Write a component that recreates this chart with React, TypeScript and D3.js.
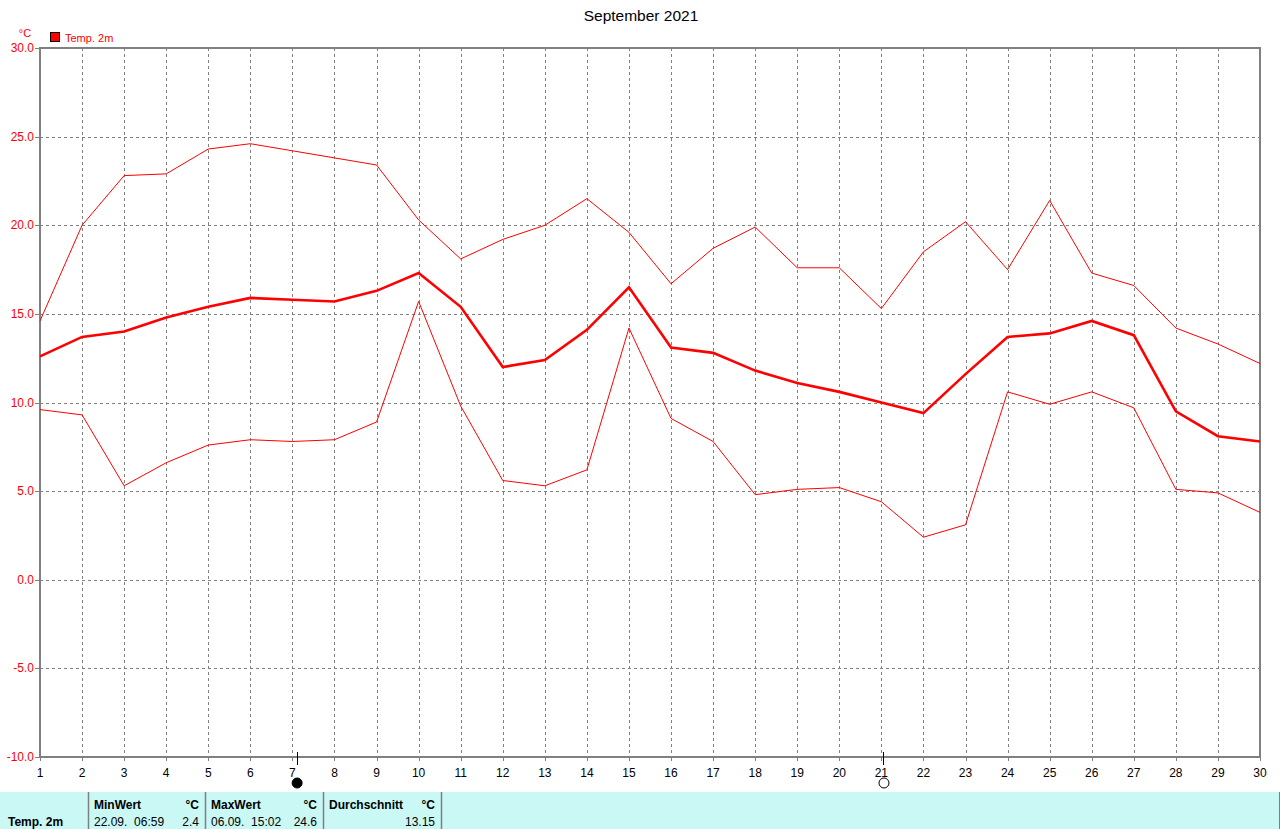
import React from "react";
import * as d3 from "d3";

const days = d3.range(1, 31);
const tempMax = [14.6, 20.0, 22.8, 22.9, 24.3, 24.6, 24.2, 23.8, 23.4, 20.3, 18.1, 19.2, 20.0, 21.5, 19.6, 16.7, 18.7, 19.9, 17.6, 17.6, 15.3, 18.5, 20.2, 17.5, 21.4, 17.3, 16.6, 14.2, 13.3, 12.2];
const tempMean = [12.6, 13.7, 14.0, 14.8, 15.4, 15.9, 15.8, 15.7, 16.3, 17.3, 15.4, 12.0, 12.4, 14.1, 16.5, 13.1, 12.8, 11.8, 11.1, 10.6, 10.0, 9.4, 11.6, 13.7, 13.9, 14.6, 13.8, 9.5, 8.1, 7.8];
const tempMin = [9.6, 9.3, 5.3, 6.6, 7.6, 7.9, 7.8, 7.9, 8.9, 15.7, 9.8, 5.6, 5.3, 6.2, 14.2, 9.1, 7.8, 4.8, 5.1, 5.2, 4.4, 2.4, 3.1, 10.6, 9.9, 10.6, 9.7, 5.1, 4.9, 3.8];
const yTicks = [30, 25, 20, 15, 10, 5, 0, -5, -10];
const moonPhases = [
  { day: 7.1, type: "new" },
  { day: 21.05, type: "full" },
];
const title = "September 2021";
const seriesName = "Temp. 2m";
const unit = "°C";
const statHeaders = ["MinWert", "MaxWert", "Durchschnitt"];
const statDates = ["22.09.  06:59", "06.09.  15:02", ""];
const statValues = ["2.4", "24.6", "13.15"];

const W = 1280;
const H = 829;
const left = 40;
const right = 1260;
const top = 48;
const bottom = 757;
const font = "'Liberation Sans', Arial, sans-serif";
const grey = "#808080";

export default function App() {
  const x = d3.scaleLinear().domain([1, 30]).range([left, right]);
  const y = d3.scaleLinear().domain([-10, 30]).range([bottom, top]);
  const line = d3
    .line<number>()
    .x((_, i) => x(days[i]))
    .y((d) => y(d));

  const tableTop = 792;
  const colX = [88, 205, 323, 441];

  return (
    <div style={{ position: "absolute", left: 0, top: 0 }}>
      <svg width={W} height={H} style={{ display: "block" }} fontFamily={font}>
        <rect x={0} y={0} width={W} height={H} fill="#ffffff" />
        <text x={641} y={21} textAnchor="middle" fontSize={15.5} fill="#000">
          {title}
        </text>
        {/* unit label */}
        <text x={25} y={37} textAnchor="middle" fontSize={11} fill="#ff0000">
          {unit}
        </text>
        {/* legend */}
        <rect x={50.5} y={32.5} width={9} height={9} fill="#ff0000" stroke="#000" strokeWidth={1} />
        <text x={65} y={42} fontSize={11} fill="#ff0000">
          {seriesName}
        </text>

        {/* grid */}
        <g stroke={grey} strokeWidth={1} strokeDasharray="3,3" shapeRendering="crispEdges">
          {yTicks
            .filter((t) => t !== 30 && t !== -10)
            .map((t) => (
              <line key={"h" + t} x1={left} x2={right} y1={Math.round(y(t)) + 0.5} y2={Math.round(y(t)) + 0.5} />
            ))}
          {days
            .filter((d) => d !== 1 && d !== 30)
            .map((d) => (
              <line key={"v" + d} x1={Math.round(x(d)) + 0.5} x2={Math.round(x(d)) + 0.5} y1={top} y2={bottom} />
            ))}
        </g>

        {/* frame */}
        <rect x={left} y={top} width={right - left} height={bottom - top} fill="none" stroke={grey} strokeWidth={2} shapeRendering="crispEdges" />

        {/* y ticks and labels */}
        {yTicks.map((t) => (
          <g key={"yt" + t}>
            <line x1={35} x2={left} y1={Math.round(y(t)) + 0.5} y2={Math.round(y(t)) + 0.5} stroke={grey} strokeWidth={1} shapeRendering="crispEdges" />
            <text x={34} y={y(t) + 4} textAnchor="end" fontSize={12} fill="#ff0000">
              {t.toFixed(1)}
            </text>
          </g>
        ))}

        {/* x ticks and labels */}
        {days.map((d) => (
          <g key={"xt" + d}>
            <line x1={Math.round(x(d)) + 0.5} x2={Math.round(x(d)) + 0.5} y1={bottom} y2={bottom + 4} stroke={grey} strokeWidth={1} shapeRendering="crispEdges" />
            <text x={x(d)} y={777} textAnchor="middle" fontSize={12} fill="#000">
              {d}
            </text>
          </g>
        ))}

        {/* series */}
        <g fill="none" stroke="#ff0000" strokeLinejoin="miter">
          <path d={line(tempMax) || ""} strokeWidth={1} />
          <path d={line(tempMin) || ""} strokeWidth={1} />
          <path d={line(tempMean) || ""} strokeWidth={2.6} />
        </g>

        {/* moon phases */}
        {moonPhases.map((m) => (
          <g key={"m" + m.day}>
            <line x1={Math.round(x(m.day)) + 0.5} x2={Math.round(x(m.day)) + 0.5} y1={752} y2={765} stroke="#000" strokeWidth={1} shapeRendering="crispEdges" />
            <circle cx={x(m.day) + 0.5} cy={783} r={5} fill={m.type === "new" ? "#000" : "#fff"} stroke="#000" strokeWidth={1} />
          </g>
        ))}

        {/* stats table */}
        <rect x={0} y={tableTop} width={1279} height={H - tableTop} fill="#c9f8f5" />
        <line x1={1279.5} x2={1279.5} y1={tableTop} y2={H} stroke={grey} strokeWidth={1} />
        {colX.map((cx) => (
          <line key={"c" + cx} x1={cx + 0.5} x2={cx + 0.5} y1={tableTop} y2={H} stroke={grey} strokeWidth={1.5} />
        ))}
        <text x={8} y={826} fontSize={12} fontWeight="bold" fill="#000">
          {seriesName}
        </text>
        {statHeaders.map((h, i) => (
          <g key={"s" + i}>
            <text x={colX[i] + 6} y={809} fontSize={12} fontWeight="bold" fill="#000">
              {h}
            </text>
            <text x={colX[i + 1] - 6} y={809} textAnchor="end" fontSize={12} fontWeight="bold" fill="#000">
              {unit}
            </text>
            <text x={colX[i] + 6} y={826} fontSize={12} fill="#000" style={{ whiteSpace: "pre" }}>
              {statDates[i]}
            </text>
            <text x={colX[i + 1] - 6} y={826} textAnchor="end" fontSize={12} fill="#000">
              {statValues[i]}
            </text>
          </g>
        ))}
      </svg>
    </div>
  );
}
